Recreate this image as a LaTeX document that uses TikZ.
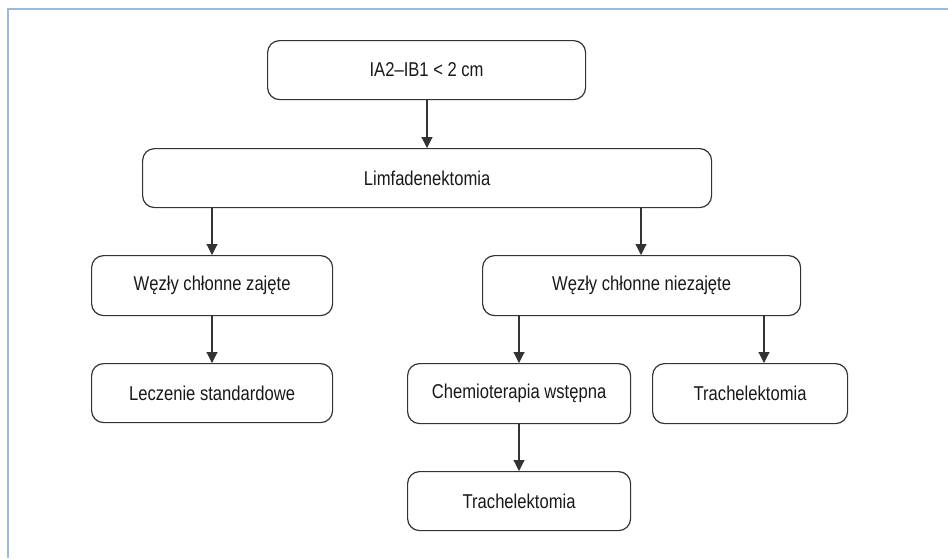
\documentclass[tikz,border=0pt]{standalone}
\usepackage{fontspec}
\setmainfont[FakeStretch=0.83]{Liberation Sans}
\usetikzlibrary{arrows.meta}
\definecolor{frameblue}{HTML}{9FB9D6}
\definecolor{boxline}{HTML}{333333}
\tikzset{
  fbox/.style={draw=boxline, line width=1.2pt, rounded corners=12pt, fill=white,
    anchor=north west, inner sep=0pt, font=\fontsize{20}{22}\selectfont, text=black!90},
  conn/.style={draw=boxline, line width=1.1pt, -{Triangle[length=11pt,width=11pt]}}
}
\begin{document}
\begin{tikzpicture}[x=1pt,y=-1pt]
\useasboundingbox (0,0) rectangle (948,558);
\fill[white] (0,0) rectangle (948,558);
\draw[frameblue, line width=2.2pt] (8,558) -- (8,9) -- (948,9);
% boxes: (left,top) width height
\node[fbox, minimum width=318pt, minimum height=59pt] (top) at (267,40) {IA2–IB1 < 2 cm};
\node[fbox, minimum width=569pt, minimum height=59pt] (limf) at (142,148) {Limfadenektomia};
\node[fbox, minimum width=241pt, minimum height=60pt] (zaj) at (91,255) {Węzły chłonne zajęte};
\node[fbox, minimum width=318pt, minimum height=60pt] (niezaj) at (482,255) {Węzły chłonne niezajęte};
\node[fbox, minimum width=241pt, minimum height=59pt] (lecz) at (91,363) {Leczenie standardowe};
\node[fbox, minimum width=223pt, minimum height=60pt] (chemo) at (407,363) {Chemioterapia wstępna};
\node[fbox, minimum width=195pt, minimum height=60pt] (trR) at (652,363) {Trachelektomia};
\node[fbox, minimum width=223pt, minimum height=59pt] (trB) at (407,471) {Trachelektomia};
% connectors
\draw[conn] (top.south -| 427,0) -- (limf.north -| 427,0);
\draw[conn] (limf.south -| 212,0) -- (zaj.north -| 212,0);
\draw[conn] (limf.south -| 641,0) -- (niezaj.north -| 641,0);
\draw[conn] (zaj.south -| 212,0) -- (lecz.north -| 212,0);
\draw[conn] (niezaj.south -| 519,0) -- (chemo.north -| 519,0);
\draw[conn] (niezaj.south -| 764,0) -- (trR.north -| 764,0);
\draw[conn] (chemo.south -| 519,0) -- (trB.north -| 519,0);
\end{tikzpicture}
\end{document}
